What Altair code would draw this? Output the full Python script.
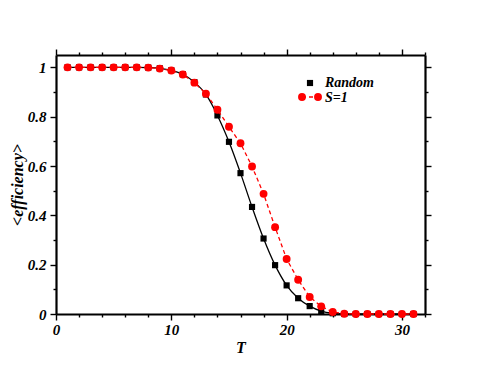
import altair as alt
import pandas as pd

T = list(range(1, 32))
random_eff = [1.0, 1.0, 1.0, 1.0, 1.0, 1.0, 1.0, 0.999, 0.996, 0.988, 0.972, 0.94, 0.89,
              0.805, 0.698, 0.571, 0.434, 0.306, 0.198, 0.116, 0.064, 0.032, 0.012, 0.003,
              0.0, 0.0, 0.0, 0.0, 0.0, 0.0, 0.0]
s1_eff = [1.0, 1.0, 1.0, 1.0, 1.0, 1.0, 1.0, 0.999, 0.995, 0.987, 0.971, 0.938, 0.893,
          0.828, 0.759, 0.692, 0.598, 0.487, 0.352, 0.223, 0.139, 0.069, 0.031, 0.008,
          0.001, 0.0, 0.0, 0.0, 0.0, 0.0, 0.0]
x_ticks = list(range(0, 33, 2))
y_ticks = [round(i * 0.1, 1) for i in range(0, 11)]

df = pd.DataFrame({"T": T, "random": random_eff, "s1": s1_eff})

FONT = "Liberation Serif"
xs = alt.Scale(domain=[0, 32], nice=False, zero=False)
ys = alt.Scale(domain=[0, 1.05], nice=False)

x_major = "datum.value % 10 === 0"
y_major = "round(datum.value * 10) % 2 === 0"

axis_common = dict(
    domain=True, domainColor="black", domainWidth=2.2, grid=False,
    tickColor="black", tickWidth=1.4,
    labelFont=FONT, labelFontSize=15, labelFontWeight="bold", labelFontStyle="italic",
    labelColor="black", titleFont=FONT, titleFontSize=16, titleFontWeight="bold",
    titleFontStyle="italic", titleColor="black",
)

x_bottom = alt.Axis(
    orient="bottom", values=x_ticks, title="T", labelExpr=f"{x_major} ? datum.label : ''",
    tickSize={"condition": {"test": x_major, "value": 6}, "value": 3},
    labelPadding=2, titlePadding=2, labelFlush=False, labelOverlap=False, **axis_common,
)
y_left = alt.Axis(
    orient="left", values=y_ticks, title="<efficiency>",
    labelExpr=f"{y_major} ? (datum.value == 1 ? '1' : (datum.value == 0 ? '0' : format(datum.value, '.1f'))) : ''",
    tickSize={"condition": {"test": y_major, "value": 6}, "value": 3},
    labelPadding=4, titlePadding=2, labelFlush=False, labelOverlap=False, **axis_common,
)
x_top = alt.Axis(
    orient="top", values=x_ticks, title=None, labels=False,
    tickSize={"condition": {"test": x_major, "value": 6}, "value": 3}, **axis_common,
)
y_right = alt.Axis(
    orient="right", values=y_ticks, title=None, labels=False,
    tickSize={"condition": {"test": y_major, "value": 6}, "value": 3}, **axis_common,
)

base = alt.Chart(df)

black_line = base.mark_line(color="black", strokeWidth=1.3, interpolate="monotone").encode(
    x=alt.X("T:Q", scale=xs, axis=x_bottom),
    y=alt.Y("random:Q", scale=ys, axis=y_left),
)
black_pts = base.mark_point(shape="square", filled=True, color="black", size=38, opacity=1).encode(
    x=alt.X("T:Q", scale=xs, axis=None),
    y=alt.Y("random:Q", scale=ys, axis=None),
)
red_line = base.mark_line(color="#ff0000", strokeWidth=1.3, strokeDash=[4, 3]).encode(
    x=alt.X("T:Q", scale=xs, axis=x_top),
    y=alt.Y("s1:Q", scale=ys, axis=y_right),
)
red_pts = base.mark_point(shape="circle", filled=True, color="#ff0000", size=62, opacity=1).encode(
    x=alt.X("T:Q", scale=xs, axis=None),
    y=alt.Y("s1:Q", scale=ys, axis=None),
)

# manual legend
leg_labels = ["Random", "S=1"]
leg = alt.Chart(pd.DataFrame({"label": leg_labels}))
leg_sq = leg.transform_filter("datum.label == 'Random'").mark_point(
    shape="square", filled=True, color="black", size=38, opacity=1
).encode(x=alt.value(254), y=alt.value(28))
leg_line = leg.transform_filter("datum.label == 'S=1'").mark_rule(
    color="#ff0000", strokeWidth=1.3, strokeDash=[4, 3]
).encode(x=alt.value(246), x2=alt.value(262), y=alt.value(42))
leg_c1 = leg.transform_filter("datum.label == 'S=1'").mark_point(
    shape="circle", filled=True, color="#ff0000", size=62, opacity=1
).encode(x=alt.value(246), y=alt.value(42))
leg_c2 = leg.transform_filter("datum.label == 'S=1'").mark_point(
    shape="circle", filled=True, color="#ff0000", size=62, opacity=1
).encode(x=alt.value(262), y=alt.value(42))
leg_t1 = leg.transform_filter("datum.label == 'Random'").mark_text(
    font=FONT, fontSize=14, fontWeight="bold", fontStyle="italic", align="left",
    baseline="middle", color="black"
).encode(x=alt.value(269), y=alt.value(28), text="label:N")
leg_t2 = leg.transform_filter("datum.label == 'S=1'").mark_text(
    font=FONT, fontSize=14, fontWeight="bold", fontStyle="italic", align="left",
    baseline="middle", color="black"
).encode(x=alt.value(269), y=alt.value(43), text="label:N")

chart = alt.layer(
    black_line, black_pts, red_line, red_pts,
    leg_sq, leg_line, leg_c1, leg_c2, leg_t1, leg_t2,
).resolve_axis(x="independent", y="independent").properties(
    width=369, height=259,
    autosize=alt.AutoSizeParams(type="none"),
    padding={"left": 48, "top": 47, "right": 40, "bottom": 40},
).configure_view(stroke=None).configure(background="white")

chart.save("out.html", embed_options={"renderer": "svg", "actions": False})
